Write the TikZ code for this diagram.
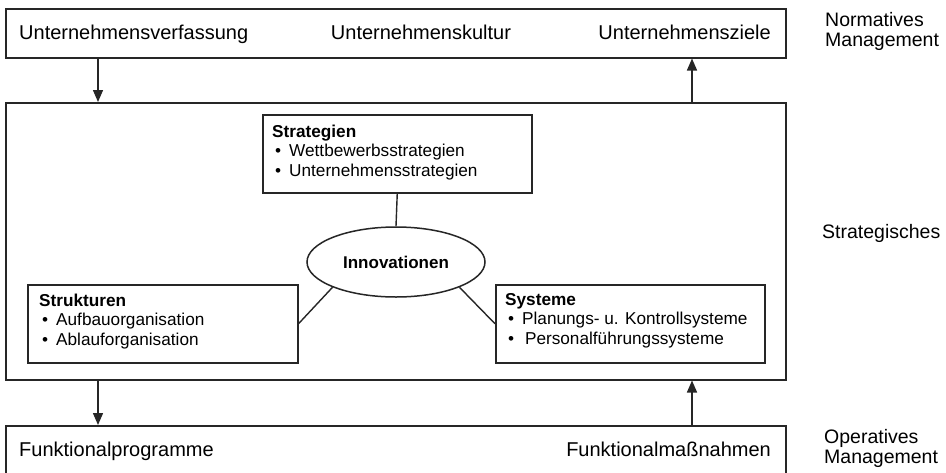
\documentclass[tikz,border=0pt]{standalone}
\usepackage{fontspec}
\setmainfont{Liberation Sans}
\usetikzlibrary{arrows.meta,shapes.geometric}
\tikzset{
  frame/.style={draw=black!85, line width=1.5pt, rectangle, inner sep=0pt, anchor=north west},
  conn/.style={draw=black!85, line width=1.4pt},
  arr/.style={conn, -{Triangle[width=10pt,length=12pt]}},
  biglabel/.style={inner sep=0pt, font=\fontsize{20}{22}\selectfont},
  sidelabel/.style={inner sep=0pt, align=left, anchor=north west, font=\fontsize{19.5}{20}\selectfont},
  boxtext/.style={inner sep=0pt, align=left, anchor=north west, font=\fontsize{17.2}{19.5}\selectfont},
}
\newcommand{\bitem}[1]{\hspace*{3pt}\makebox[14pt][l]{\textbullet}#1}
\begin{document}
\begin{tikzpicture}[x=1pt,y=-1pt]
\useasboundingbox[fill=white] (0,0) rectangle (946,472);
% frames
\node[frame, minimum width=780pt, minimum height=49pt] (norm) at (5,8) {};
\node[frame, minimum width=780pt, minimum height=277pt] (strat) at (5,102) {};
\node[frame, minimum width=780pt, minimum height=60pt] (oper) at (5,425) {};
\node[frame, minimum width=269pt, minimum height=78pt] (sb) at (262,114) {};
\node[frame, minimum width=270pt, minimum height=78pt] (struk) at (27,284) {};
\node[frame, minimum width=269pt, minimum height=78pt] (sys) at (495,284) {};
\node[draw=black!85, line width=1.5pt, ellipse, minimum width=178pt, minimum height=70pt, inner sep=0pt,
      font=\fontsize{17}{18}\selectfont\bfseries] (inno) at (396,262) {Innovationen};
% top labels
\node[biglabel, anchor=base west] (uv) at (19,39.5) {Unternehmensverfassung};
\node[biglabel, anchor=base] (uk) at (421,39.5) {Unternehmenskultur};
\node[biglabel, anchor=base east] (uz) at (771,39.5) {Unternehmensziele};
\node[biglabel, anchor=base west] (fp) at (19,456) {Funktionalprogramme};
\node[biglabel, anchor=base east] (fm) at (771,456) {Funktionalmaßnahmen};
% side labels
\node[sidelabel] (nm) at (825,12) {Normatives\\Management};
\node[inner sep=0pt, anchor=base west, font=\fontsize{19.5}{21}\selectfont] (sm) at (822,238) {Strategisches};
\node[sidelabel] (om) at (824,429) {Operatives\\Management};
% box texts
\node[boxtext] (sbt) at (272,124.5) {\textbf{Strategien}\\\bitem{Wettbewerbsstrategien}\\\bitem{Unternehmensstrategien}};
\node[boxtext] (strt) at (39,293.5) {\textbf{Strukturen}\\\bitem{Aufbauorganisation}\\\bitem{Ablauforganisation}};
\node[boxtext] (syst) at (505,293) {\textbf{Systeme}\\\bitem{Planungs- u. Kontrollsysteme}\\\bitem{\,Personalführungssysteme}};
% connectors
\coordinate (la) at (98,0);
\coordinate (ra) at (692,0);
\draw[arr] (norm.south -| la) -- (strat.north -| la);
\draw[arr] (strat.north -| ra) -- (norm.south -| ra);
\draw[arr] (strat.south -| la) -- (oper.north -| la);
\draw[arr] (oper.north -| ra) -- (strat.south -| ra);
\draw[conn] (sb.south) -- (inno.north);
\draw[conn] (struk.east) -- (inno.south west);
\draw[conn] (sys.west) -- (inno.south east);
\end{tikzpicture}
\end{document}
